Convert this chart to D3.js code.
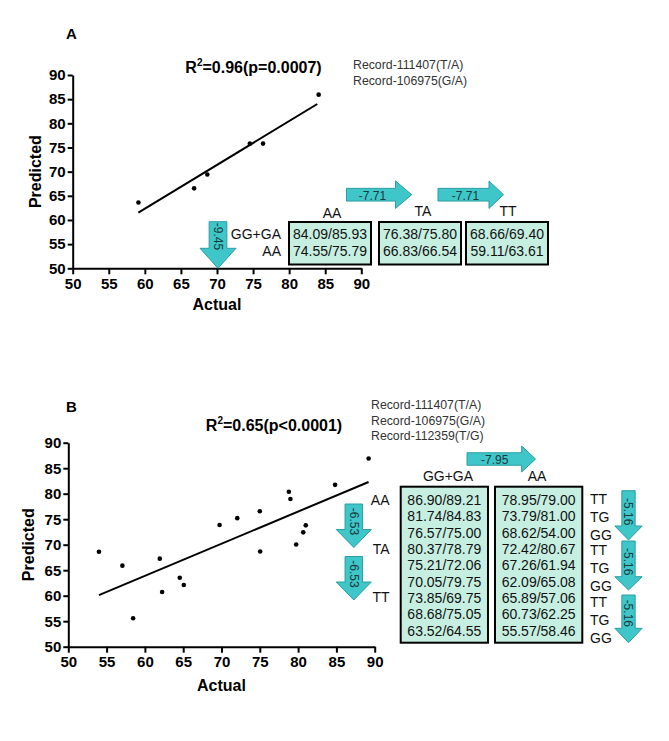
<!DOCTYPE html>
<html>
<head>
<meta charset="utf-8">
<script src="https://cdn.jsdelivr.net/npm/d3@7/dist/d3.min.js"></script>
<style>
  html, body { margin: 0; padding: 0; background: #fff; }
  svg { display: block; font-family: Arial, "Liberation Sans", sans-serif; }
</style>
</head>
<body>
<svg id="chart" width="669" height="741"></svg>
<script>
// ---------------- DATA ----------------
const axisTicks = [50, 55, 60, 65, 70, 75, 80, 85, 90];

// Panel A
const titleA = ["R", "2", "=0.96(p=0.0007)"];
const recordsA = ["Record-111407(T/A)", "Record-106975(G/A)"];
const actualA = [59.11, 66.83, 68.66, 74.55, 76.38, 84.09];
const predictedA = [63.61, 66.54, 69.40, 75.79, 75.80, 85.93];
const fitActualA = [59.1, 83.9];
const fitPredictedA = [61.5, 84.0];
const headersA = ["AA", "TA", "TT"];
const rowLabelsA = ["GG+GA", "AA"];
const tableA = [
  ["84.09/85.93", "74.55/75.79"],
  ["76.38/75.80", "66.83/66.54"],
  ["68.66/69.40", "59.11/63.61"]
];
const rightArrowLabelsA = ["-7.71", "-7.71"];
const downArrowLabelA = "-9.45";

// Panel B
const titleB = ["R", "2", "=0.65(p<0.0001)"];
const recordsB = ["Record-111407(T/A)", "Record-106975(G/A)", "Record-112359(T/G)"];
const actualB = [54.00, 57.06, 58.46, 61.94, 62.25, 64.55, 65.08, 69.75, 72.06,
                 75.00, 75.05, 78.79, 79.00, 79.75, 80.67, 81.00, 84.83, 89.21];
const predictedB = [68.62, 65.89, 55.57, 67.26, 60.73, 63.52, 62.09, 73.85, 75.21,
                    76.57, 68.68, 80.37, 78.95, 70.05, 72.42, 73.79, 81.74, 86.90];
const fitActualB = [54.0, 89.2];
const fitPredictedB = [60.1, 82.3];
const headersB = ["GG+GA", "AA"];
const tableB = [
  ["86.90/89.21", "81.74/84.83", "76.57/75.00", "80.37/78.79", "75.21/72.06",
   "70.05/79.75", "73.85/69.75", "68.68/75.05", "63.52/64.55"],
  ["78.95/79.00", "73.79/81.00", "68.62/54.00", "72.42/80.67", "67.26/61.94",
   "62.09/65.08", "65.89/57.06", "60.73/62.25", "55.57/58.46"]
];
const leftLabelsB = ["AA", "TA", "TT"];
const leftArrowLabelsB = ["-6.53", "-6.53"];
const rightLabelsB = ["TT", "TG", "GG"];
const rightArrowLabelsB = ["-5.16", "-5.16", "-5.16"];
const topArrowLabelB = "-7.95";

// ---------------- STYLE ----------------
const ARROW_FILL = "#3ec6c8";
const ARROW_STROKE = "#2a9ea4";
const BOX_FILL = "#c6efe1";
const TEXT = "#111";

const svg = d3.select("#chart");
svg.append("rect").attr("width", 669).attr("height", 741).attr("fill", "#fff");

const lineGen = d3.line();

function downArrow(g, cx, top, headStart, tip, shaftW, headW, label, textCy, fs) {
  const pts = [[cx - shaftW / 2, top], [cx + shaftW / 2, top], [cx + shaftW / 2, headStart],
               [cx + headW / 2, headStart], [cx, tip], [cx - headW / 2, headStart],
               [cx - shaftW / 2, headStart]];
  g.append("path").attr("d", lineGen(pts) + "Z")
    .attr("fill", ARROW_FILL).attr("stroke", ARROW_STROKE).attr("stroke-width", 1);
  g.append("text").attr("transform", `translate(${cx},${textCy}) rotate(90)`)
    .attr("text-anchor", "middle").attr("dy", "0.35em")
    .attr("font-size", fs).attr("fill", "#1b3b3c").text(label);
}

function rightArrow(g, x0, headStart, tip, cy, shaftH, headH, label, textCx, fs) {
  const pts = [[x0, cy - shaftH / 2], [headStart, cy - shaftH / 2], [headStart, cy - headH / 2],
               [tip, cy], [headStart, cy + headH / 2], [headStart, cy + shaftH / 2],
               [x0, cy + shaftH / 2]];
  g.append("path").attr("d", lineGen(pts) + "Z")
    .attr("fill", ARROW_FILL).attr("stroke", ARROW_STROKE).attr("stroke-width", 1);
  g.append("text").attr("x", textCx).attr("y", cy + 5)
    .attr("text-anchor", "middle")
    .attr("font-size", fs).attr("fill", "#1b3b3c").text(label);
}

function scatterPanel(opt) {
  const g = svg.append("g");
  const x = d3.scaleLinear().domain([50, 90]).range(opt.xRange);
  const y = d3.scaleLinear().domain([50, 90]).range(opt.yRange);

  const xAxis = d3.axisBottom(x).tickValues(axisTicks).tickSize(6).tickPadding(4).tickSizeOuter(0);
  const yAxis = d3.axisLeft(y).tickValues(axisTicks).tickSize(5).tickPadding(2).tickSizeOuter(0);

  const gx = g.append("g").attr("transform", `translate(0,${opt.yRange[0]})`).call(xAxis);
  const gy = g.append("g").attr("transform", `translate(${opt.xRange[0]},0)`).call(yAxis);
  [gx, gy].forEach(a => {
    a.selectAll("path, line").attr("stroke", "#000").attr("stroke-width", 2);
    a.selectAll("text").attr("font-size", 15).attr("font-weight", "bold").attr("fill", "#000")
      .attr("font-family", 'Arial, "Liberation Sans", sans-serif');
  });

  // axis titles
  g.append("text").attr("x", (opt.xRange[0] + opt.xRange[1]) / 2).attr("y", opt.xTitleY)
    .attr("text-anchor", "middle").attr("font-size", 16).attr("font-weight", "bold").text("Actual");
  g.append("text")
    .attr("transform", `translate(${opt.yTitleX},${(opt.yRange[0] + opt.yRange[1]) / 2}) rotate(-90)`)
    .attr("text-anchor", "middle").attr("font-size", 16).attr("font-weight", "bold").text("Predicted");

  // fit line
  g.append("path")
    .attr("d", lineGen(opt.fitX.map((v, i) => [x(v), y(opt.fitY[i])])))
    .attr("stroke", "#000").attr("stroke-width", 2).attr("fill", "none");

  // points
  g.selectAll("circle.pt").data(opt.actual).join("circle")
    .attr("class", "pt")
    .attr("cx", d => x(d)).attr("cy", (d, i) => y(opt.predicted[i]))
    .attr("r", 2.3).attr("fill", "#000");

  // panel letter
  g.append("text").attr("x", 66).attr("y", opt.letterY).attr("font-size", 15)
    .attr("font-weight", "bold").text(opt.letter);

  // title with superscript
  const t = g.append("text").attr("x", opt.titleX).attr("y", opt.titleY)
    .attr("text-anchor", "middle").attr("font-size", 16).attr("font-weight", "bold");
  t.append("tspan").text(opt.title[0]);
  t.append("tspan").attr("font-size", 10).attr("dy", -7).text(opt.title[1]);
  t.append("tspan").attr("dy", 7).text(opt.title[2]);

  // records
  opt.records.forEach((r, i) => {
    g.append("text").attr("x", opt.recX).attr("y", opt.recY + i * 15.5)
      .attr("font-size", 12.3).attr("fill", "#333").text(r);
  });
  return g;
}

// ---------------- PANEL A ----------------
const gA = scatterPanel({
  xRange: [72.7, 361.3], yRange: [268.3, 75],
  actual: actualA, predicted: predictedA, fitX: fitActualA, fitY: fitPredictedA,
  letter: "A", letterY: 39, title: titleA, titleX: 253.5, titleY: 73,
  records: recordsA, recX: 353, recY: 69, xTitleY: 310, yTitleX: 41
});

// table A
const boxXA = [289, 379, 466];
const boxWA = 82, boxTopA = 222, boxHA = 42.5;
tableA.forEach((col, c) => {
  gA.append("rect").attr("x", boxXA[c]).attr("y", boxTopA).attr("width", boxWA).attr("height", boxHA)
    .attr("fill", BOX_FILL).attr("stroke", "#000").attr("stroke-width", 2);
  col.forEach((v, r) => {
    gA.append("text").attr("x", boxXA[c] + boxWA / 2).attr("y", 239 + r * 17)
      .attr("text-anchor", "middle").attr("font-size", 14).attr("fill", TEXT).text(v);
  });
});
const headerXA = [332, 423, 508];
const headerYA = [218, 216, 216];
headersA.forEach((h, i) => {
  gA.append("text").attr("x", headerXA[i]).attr("y", headerYA[i]).attr("text-anchor", "middle")
    .attr("font-size", 14).attr("fill", TEXT).text(h);
});
rowLabelsA.forEach((l, i) => {
  gA.append("text").attr("x", 281).attr("y", 239 + i * 17).attr("text-anchor", "end")
    .attr("font-size", 14).attr("fill", TEXT).text(l);
});
rightArrow(gA, 346.5, 395.5, 411.7, 194.7, 12.7, 27.5, rightArrowLabelsA[0], 372.5, 12);
rightArrow(gA, 438, 489, 503.5, 194.7, 12.7, 27.5, rightArrowLabelsA[1], 465.5, 12);
downArrow(gA, 218, 221.7, 248.3, 268.3, 17.7, 36, downArrowLabelA, 236.5, 12);

// ---------------- PANEL B ----------------
const gB = scatterPanel({
  xRange: [68.3, 374.7], yRange: [646.7, 442.7],
  actual: actualB, predicted: predictedB, fitX: fitActualB, fitY: fitPredictedB,
  letter: "B", letterY: 412, title: titleB, titleX: 274, titleY: 431,
  records: recordsB, recX: 371, recY: 409, xTitleY: 691, yTitleX: 34
});

const boxXB = [400.7, 495];
const boxWB = 87.3, boxTopB = 486.7, boxHB = 156;
const rowY0B = 505, rowStepB = 16.33;
tableB.forEach((col, c) => {
  gB.append("rect").attr("x", boxXB[c]).attr("y", boxTopB).attr("width", boxWB).attr("height", boxHB)
    .attr("fill", BOX_FILL).attr("stroke", "#000").attr("stroke-width", 2);
  col.forEach((v, r) => {
    gB.append("text").attr("x", boxXB[c] + boxWB / 2).attr("y", rowY0B + r * rowStepB)
      .attr("text-anchor", "middle").attr("font-size", 14).attr("fill", TEXT).text(v);
  });
});
const headerXB = [448, 537];
headersB.forEach((h, i) => {
  gB.append("text").attr("x", headerXB[i]).attr("y", 481).attr("text-anchor", "middle")
    .attr("font-size", 14).attr("fill", TEXT).text(h);
});
const leftLabelYB = [505, 554.3, 602];
leftLabelsB.forEach((l, i) => {
  gB.append("text").attr("x", 389.5).attr("y", leftLabelYB[i]).attr("text-anchor", "end")
    .attr("font-size", 14).attr("fill", TEXT).text(l);
});
const groupStartB = [503.5, 555, 606.5];
groupStartB.forEach(y0 => {
  rightLabelsB.forEach((l, i) => {
    gB.append("text").attr("x", 590).attr("y", y0 + i * 18.2)
      .attr("font-size", 14).attr("fill", TEXT).text(l);
  });
});
rightArrow(gB, 467, 521.7, 535.5, 459, 12.5, 26, topArrowLabelB, 494.7, 12);
downArrow(gB, 353.8, 504, 529.5, 547.5, 17.5, 35, leftArrowLabelsB[0], 521.5, 12);
downArrow(gB, 353.8, 556.5, 582, 600, 17.5, 35, leftArrowLabelsB[1], 574, 12);
const rArrowTops = [490.7, 541, 595];
const rArrowHeads = [526, 576.7, 628.3];
const rArrowTips = [540, 590, 642.7];
const rArrowTextY = [511.7, 561.7, 613.3];
rightArrowLabelsB.forEach((l, i) => {
  downArrow(gB, 628.5, rArrowTops[i], rArrowHeads[i], rArrowTips[i], 13.3, 27.3, l, rArrowTextY[i], 12);
});
</script>
</body>
</html>
